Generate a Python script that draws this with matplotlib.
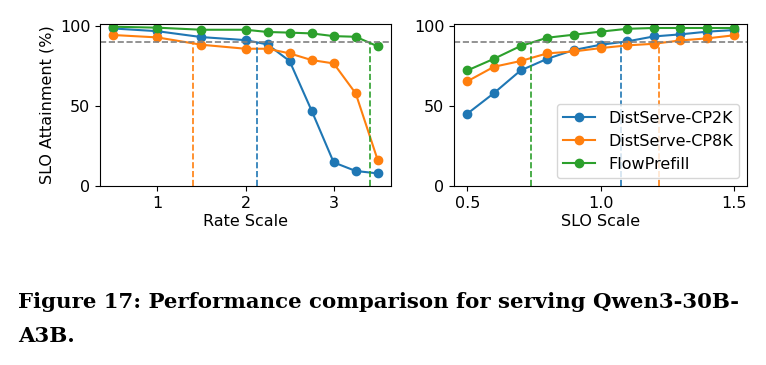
import matplotlib as mpl
mpl.use('Agg')
import matplotlib.pyplot as plt

# left panel: rate scale sweep
rate = [0.5, 1.0, 1.5, 2.0, 2.25, 2.5, 2.75, 3.0, 3.25, 3.5]
rate_cp2k = [98.7, 97.0, 93.3, 91.4, 88.7, 78.3, 47.2, 14.8, 9.4, 7.9]
rate_cp8k = [94.6, 93.1, 88.5, 86.0, 86.0, 83.1, 78.9, 76.8, 58.0, 16.1]
rate_flow = [99.8, 99.2, 97.9, 97.9, 96.5, 96.1, 95.6, 93.9, 93.5, 87.5]
rate_cut = [2.125, 1.40, 3.415]  # CP2K, CP8K, FlowPrefill

# right panel: SLO scale sweep
slo = [0.5, 0.6, 0.7, 0.8, 0.9, 1.0, 1.1, 1.2, 1.3, 1.4, 1.5]
slo_cp2k = [45.3, 58.2, 72.4, 79.7, 85.2, 88.5, 90.6, 93.7, 95.0, 96.7, 97.7]
slo_cp8k = [65.6, 74.7, 78.3, 83.1, 84.3, 86.4, 88.1, 89.1, 91.2, 92.5, 94.4]
slo_flow = [72.4, 79.7, 87.7, 92.9, 94.8, 96.7, 98.5, 99.0, 99.0, 99.0, 99.0]
slo_cut = [1.076, 1.218, 0.74]

names = ['DistServe-CP2K', 'DistServe-CP8K', 'FlowPrefill']
colors = ['#1f77b4', '#ff7f0e', '#2ca02c']
target = 90

W, H = 766, 365
fig = plt.figure(figsize=(W / 100, H / 100), dpi=100)
plt.rcParams['font.size'] = 11.5

ax1 = fig.add_axes([100 / W, (H - 186) / H, 291 / W, 162 / H])
ax2 = fig.add_axes([454 / W, (H - 186) / H, 293 / W, 162 / H])

panels = [
    (ax1, rate, [rate_cp2k, rate_cp8k, rate_flow], rate_cut, 'Rate Scale'),
    (ax2, slo, [slo_cp2k, slo_cp8k, slo_flow], slo_cut, 'SLO Scale'),
]

for ax, xs, series, cuts, xlabel in panels:
    for ys, name, c in zip(series, names, colors):
        ax.plot(xs, ys, marker='o', color=c, label=name)
    ax.axhline(target, color='gray', linestyle='--', linewidth=1.2)
    for x, c in zip(cuts, colors):
        ax.vlines(x, 0, target, colors=c, linestyles='--', linewidth=1.2)
    ax.set_ylim(0, 101.5)
    ax.set_yticks([0, 50, 100])
    ax.set_xlabel(xlabel, labelpad=2)

ax1.set_xticks([1, 2, 3])
ax2.set_xticks([0.5, 1.0, 1.5])
ax1.set_ylabel('SLO Attainment (%)')
ax2.legend(loc='lower right')

cap = dict(family='DejaVu Serif', weight='bold', fontsize=15.3, va='baseline')
fig.text(18 / W, 1 - 308 / H,
         'Figure 17: Performance comparison for serving Qwen3-30B-', **cap)
fig.text(18 / W, 1 - 342 / H, 'A3B.', **cap)

fig.savefig('out.png', dpi=100)
